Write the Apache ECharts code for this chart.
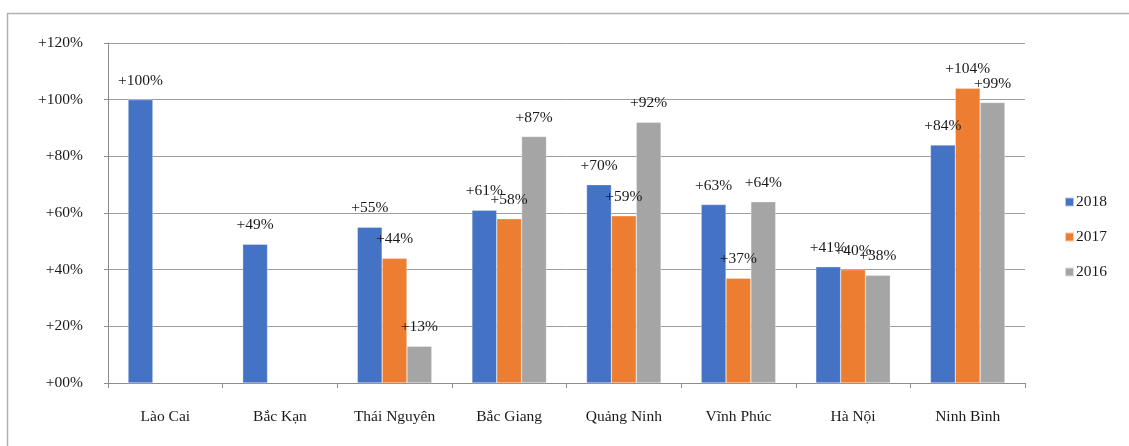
<!DOCTYPE html>
<html>
<head>
<meta charset="utf-8">
<script src="https://cdn.jsdelivr.net/npm/echarts@6/dist/echarts.min.js"></script>
<style>
  html, body { margin: 0; padding: 0; background: #fff; }
  #chart { width: 1129px; height: 446px; }
</style>
</head>
<body>
<div id="chart"></div>
<script>
// Growth by province, 2016–2018 (%)
const provinces = ['Lào Cai', 'Bắc Kạn', 'Thái Nguyên', 'Bắc Giang', 'Quảng Ninh', 'Vĩnh Phúc', 'Hà Nội', 'Ninh Bình'];
const growth2018 = [100, 49, 55, 61, 70, 63, 41, 84];
const growth2017 = [null, null, 44, 58, 59, 37, 40, 104];
const growth2016 = [null, null, 13, 87, 92, 64, 38, 99];
const yearNames = ['2018', '2017', '2016'];
const yearColors = ['#4472C4', '#ED7D31', '#A5A5A5'];

const serif = '"Liberation Serif", "Times New Roman", serif';
const pct = v => (v === 0 ? '+00%' : '+' + v + '%');

const chart = echarts.init(document.getElementById('chart'), null, { renderer: 'canvas' });

function barSeries(name, data, color) {
  return {
    name: name,
    type: 'bar',
    data: data,
    barGap: '0%',
    barCategoryGap: '35%',
    itemStyle: { color: color, borderColor: 'rgba(255,255,255,0.6)', borderWidth: 0.5 },
    label: {
      show: true,
      position: 'top',
      distance: 11,
      color: '#1a1a1a',
      fontFamily: serif,
      fontSize: 15.5,
      formatter: p => (p.value == null ? '' : pct(p.value))
    }
  };
}

chart.setOption({
  animation: false,
  backgroundColor: '#fff',
  graphic: [{
    type: 'rect',
    shape: { x: 7.5, y: 13.5, width: 1200, height: 500 },
    style: { fill: 'none', stroke: '#b0b0b0', lineWidth: 1.5 },
    silent: true,
    z: -1
  }],
  grid: { left: 108, right: 104, top: 43, bottom: 63 },
  legend: {
    orient: 'vertical',
    left: 1059,
    top: 189,
    itemWidth: 9,
    itemHeight: 9,
    itemGap: 19,
    icon: 'rect',
    textStyle: { fontFamily: serif, fontSize: 15.5, color: '#1a1a1a', padding: [0, 0, 0, -3] },
    data: yearNames
  },
  xAxis: {
    type: 'category',
    data: provinces,
    axisLine: { lineStyle: { color: '#8c8c8c', width: 1 } },
    axisTick: { show: true, length: 5, lineStyle: { color: '#8c8c8c' } },
    axisLabel: { fontFamily: serif, fontSize: 15.5, color: '#1a1a1a', margin: 26 }
  },
  yAxis: {
    type: 'value',
    min: 0,
    max: 120,
    interval: 20,
    axisLine: { show: true, lineStyle: { color: '#8c8c8c', width: 1 } },
    axisTick: { show: true, length: 4, lineStyle: { color: '#8c8c8c' } },
    splitLine: { lineStyle: { color: '#9e9e9e', width: 1 } },
    axisLabel: { fontFamily: serif, fontSize: 15.5, color: '#1a1a1a', margin: 25, formatter: pct }
  },
  series: [
    barSeries(yearNames[0], growth2018, yearColors[0]),
    barSeries(yearNames[1], growth2017, yearColors[1]),
    barSeries(yearNames[2], growth2016, yearColors[2])
  ]
});
</script>
</body>
</html>
